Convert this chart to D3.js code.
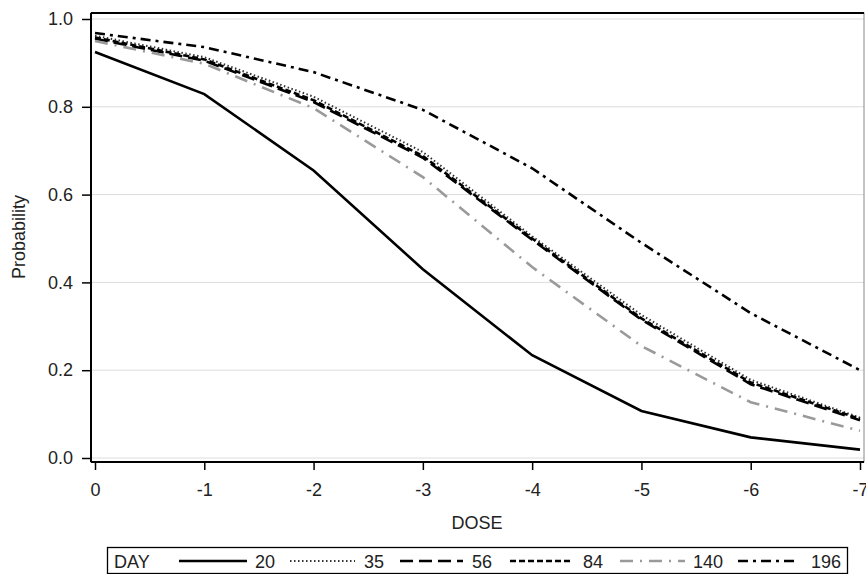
<!DOCTYPE html>
<html>
<head>
<meta charset="utf-8">
<script src="https://cdn.jsdelivr.net/npm/d3@7"></script>
<style>
  body { margin: 0; background: #fff; }
  svg { font-family: "Liberation Sans", Arial, sans-serif; }
</style>
</head>
<body>
<div class="chart-container"></div>
<script>
// doses on the x axis (plotted reversed, 0 at left)
var doses = [0, -1, -2, -3, -4, -5, -6, -7];
var yTicks = [0.0, 0.2, 0.4, 0.6, 0.8, 1.0];

var days = ['20', '35', '56', '84', '140', '196'];
var day20  = [0.925, 0.829, 0.655, 0.430, 0.234, 0.107, 0.047, 0.019];
var day35  = [0.962, 0.913, 0.823, 0.697, 0.505, 0.326, 0.178, 0.092];
var day56  = [0.955, 0.905, 0.811, 0.684, 0.497, 0.315, 0.168, 0.086];
var day84  = [0.958, 0.908, 0.815, 0.688, 0.500, 0.318, 0.172, 0.089];
var day140 = [0.950, 0.898, 0.797, 0.640, 0.435, 0.255, 0.127, 0.062];
var day196 = [0.968, 0.936, 0.879, 0.793, 0.660, 0.490, 0.330, 0.200];

var W = 866, H = 574;
var margin = {top: 13, right: 2, bottom: 112, left: 91};
var fontSize = '18px';

var series = [
  {day: days[0], values: day20,  color: '#000', dash: null},
  {day: days[1], values: day35,  color: '#333', dash: '1.5,2.5', width: 2},
  {day: days[2], values: day56,  color: '#000', dash: '13,6'},
  {day: days[3], values: day84,  color: '#000', dash: '6,3'},
  {day: days[4], values: day140, color: '#9a9a9a', dash: '13,7,2,7'},
  {day: days[5], values: day196, color: '#000', dash: '10,5,3,5'}
];

var x = d3.scaleLinear()
  .domain([0, -7])
  .range([95, 860]);

var y = d3.scaleLinear()
  .domain([0, 1])
  .range([458, 19]);

var svg = d3.select('.chart-container').append('svg')
  .attr('width', W)
  .attr('height', H);

// grid
svg.selectAll('.grid')
  .data(yTicks)
  .enter().append('line')
    .attr('x1', margin.left)
    .attr('x2', W - margin.right)
    .attr('y1', d => y(d))
    .attr('y2', d => y(d))
    .style('stroke', '#dcdcdc')
    .style('stroke-width', 1);

// frame
svg.append('rect')
  .attr('x', margin.left)
  .attr('y', margin.top)
  .attr('width', W - margin.right - margin.left)
  .attr('height', 462 - margin.top)
  .style('fill', 'none')
  .style('stroke', '#888')
  .style('stroke-width', 1);

svg.append('line')
  .attr('x1', margin.left).attr('x2', W - margin.right)
  .attr('y1', margin.top).attr('y2', margin.top)
  .style('stroke', '#000').style('stroke-width', 2);

var xAxis = d3.axisBottom(x)
  .tickValues(doses)
  .tickFormat(d => String(d))
  .tickSize(8)
  .tickSizeOuter(0);

var yAxis = d3.axisLeft(y)
  .tickValues(yTicks)
  .tickFormat(d3.format('.1f'))
  .tickSize(9)
  .tickSizeOuter(0);

var gX = svg.append('g')
  .attr('transform', 'translate(0,462)')
  .call(xAxis);
gX.select('.domain').attr('d', `M${margin.left},0H${W - margin.right}`);

var gY = svg.append('g')
  .attr('transform', `translate(${margin.left},0)`)
  .call(yAxis);
gY.select('.domain').attr('d', `M0,${margin.top}V462`);

svg.selectAll('.domain').style('stroke', '#000').style('stroke-width', 2);
svg.selectAll('.tick line').style('stroke', '#000').style('stroke-width', 1.5);
svg.selectAll('.tick text')
  .style('font-size', fontSize)
  .style('fill', '#222')
  .style('font-family', '"Liberation Sans", Arial, sans-serif');
gX.selectAll('.tick text').attr('y', 34).attr('dy', null);
gY.selectAll('.tick text').attr('x', -18);

svg.append('text')
  .attr('x', 477)
  .attr('y', 529)
  .attr('text-anchor', 'middle')
  .style('font-size', fontSize)
  .style('fill', '#222')
  .text('DOSE');

svg.append('text')
  .attr('transform', 'translate(25,237) rotate(-90)')
  .attr('text-anchor', 'middle')
  .style('font-size', fontSize)
  .style('fill', '#222')
  .text('Probability');

var line = d3.line()
  .x((d, i) => x(doses[i]))
  .y(d => y(d));

svg.selectAll('.series')
  .data(series)
  .enter().append('path')
    .attr('class', 'series')
    .attr('d', d => line(d.values))
    .style('fill', 'none')
    .style('stroke', d => d.color)
    .style('stroke-width', d => d.width || 2.6)
    .style('stroke-dasharray', d => d.dash);

// legend
var legend = svg.append('g');
legend.append('rect')
  .attr('x', 107.5)
  .attr('y', 547.5)
  .attr('width', 740)
  .attr('height', 26)
  .style('fill', '#fff')
  .style('stroke', '#000')
  .style('stroke-width', 1.3);

legend.append('text')
  .attr('x', 114)
  .attr('y', 568)
  .style('font-size', fontSize)
  .style('fill', '#222')
  .text('DAY');

var legendPos = [
  {x1: 179, x2: 247, tx: 255},
  {x1: 290, x2: 355, tx: 364},
  {x1: 400, x2: 463, tx: 472},
  {x1: 510, x2: 573, tx: 583},
  {x1: 620, x2: 685, tx: 693},
  {x1: 738, x2: 799, tx: 811}
];

var items = legend.selectAll('.item')
  .data(series)
  .enter().append('g')
    .attr('class', 'item');

items.append('line')
  .attr('x1', (d, i) => legendPos[i].x1)
  .attr('x2', (d, i) => legendPos[i].x2)
  .attr('y1', 561)
  .attr('y2', 561)
  .style('stroke', d => d.color)
  .style('stroke-width', d => d.width || 2.6)
  .style('stroke-dasharray', d => d.dash);

items.append('text')
  .attr('x', (d, i) => legendPos[i].tx)
  .attr('y', 568)
  .style('font-size', fontSize)
  .style('fill', '#222')
  .text(d => d.day);
</script>
</body>
</html>
